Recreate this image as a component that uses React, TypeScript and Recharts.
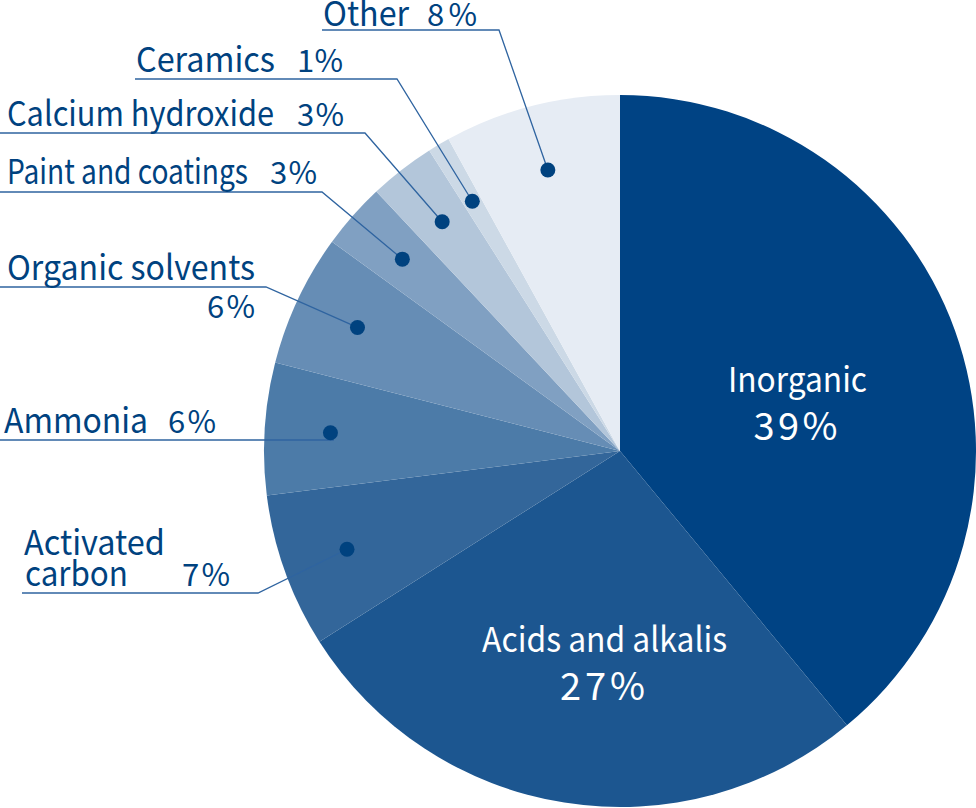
import React from 'react';
import { PieChart, Pie, Cell } from 'recharts';

// values (share of total, %)
const categories = [
  'Inorganic',
  'Acids and alkalis',
  'Activated carbon',
  'Ammonia',
  'Organic solvents',
  'Paint and coatings',
  'Calcium hydroxide',
  'Ceramics',
  'Other',
];
const shares = [39, 27, 7, 6, 6, 3, 3, 1, 8];
const sliceColors = [
  '#004384',
  '#1c5690',
  '#33669a',
  '#4c7ba8',
  '#668db5',
  '#80a0c2',
  '#b3c6da',
  '#ccd9e6',
  '#e6ecf4',
];

const data = categories.map((name, i) => ({ name, value: shares[i] }));

const FONT = '"Noto Sans CJK JP", "Source Sans Pro", "Noto Sans", sans-serif';
const TEXT_COLOR = '#00427f';
const LINE_COLOR = '#2f64a0';
const RAD = Math.PI / 180;

type TextLine = { text: string; x: number; y: number; w: number };
type OutsideLayout = {
  kind: 'outside';
  lines: TextLine[];
  pct: { x: number; y: number; w: number };
  underlineY: number;
  underlineX0: number;
  elbowX: number;
};
type InsideLayout = { kind: 'inside'; r: number; dx: number; dy: number; w: number; pw: number };

// label placement only (not data)
const labelLayout: Record<string, OutsideLayout | InsideLayout> = {
  Inorganic: { kind: 'inside', r: 0.53, dx: 0, dy: 18, w: 139, pw: 84 },
  'Acids and alkalis': { kind: 'inside', r: 0.6, dx: 18, dy: 3, w: 245, pw: 85 },
  'Activated carbon': {
    kind: 'outside',
    lines: [
      { text: 'Activated', x: 24, y: 555, w: 141 },
      { text: 'carbon', x: 25, y: 586, w: 103 },
    ],
    pct: { x: 182, y: 586, w: 48 },
    underlineY: 593,
    underlineX0: 22,
    elbowX: 258,
  },
  Ammonia: {
    kind: 'outside',
    lines: [{ text: 'Ammonia', x: 4, y: 433, w: 144 }],
    pct: { x: 168, y: 433, w: 48 },
    underlineY: 440,
    underlineX0: 0,
    elbowX: 333,
  },
  'Organic solvents': {
    kind: 'outside',
    lines: [{ text: 'Organic solvents', x: 7, y: 280, w: 248 }],
    pct: { x: 207, y: 318, w: 48 },
    underlineY: 287,
    underlineX0: 0,
    elbowX: 266,
  },
  'Paint and coatings': {
    kind: 'outside',
    lines: [{ text: 'Paint and coatings', x: 7, y: 184, w: 241 }],
    pct: { x: 270, y: 184, w: 47 },
    underlineY: 192,
    underlineX0: 0,
    elbowX: 322,
  },
  'Calcium hydroxide': {
    kind: 'outside',
    lines: [{ text: 'Calcium hydroxide', x: 7, y: 126, w: 267 }],
    pct: { x: 297, y: 126, w: 47 },
    underlineY: 133,
    underlineX0: 0,
    elbowX: 365,
  },
  Ceramics: {
    kind: 'outside',
    lines: [{ text: 'Ceramics', x: 136, y: 72, w: 139 }],
    pct: { x: 297, y: 72, w: 46 },
    underlineY: 79,
    underlineX0: 135,
    elbowX: 397,
  },
  Other: {
    kind: 'outside',
    lines: [{ text: 'Other', x: 323, y: 26, w: 86 }],
    pct: { x: 427, y: 26, w: 50 },
    underlineY: 30,
    underlineX0: 322,
    elbowX: 499,
  },
};

const renderLabel = (props: any) => {
  const { cx, cy, midAngle, outerRadius, index } = props;
  const name = categories[index];
  const pctText = `${shares[index]}%`;
  const layout = labelLayout[name];
  const cos = Math.cos(-midAngle * RAD);
  const sin = Math.sin(-midAngle * RAD);

  if (layout.kind === 'inside') {
    const x = cx + outerRadius * layout.r * cos + layout.dx;
    const y = cy + outerRadius * layout.r * sin + layout.dy;
    return (
      <g key={`label-${index}`}>
        <text
          x={x - layout.w / 2}
          y={y - 13}
          fill="#ffffff"
          fontFamily={FONT}
          fontSize={34}
          textLength={layout.w}
          lengthAdjust="spacingAndGlyphs"
        >
          {name}
        </text>
        <text
          x={x - 2 - layout.pw / 2}
          y={y + 35}
          fill="#ffffff"
          fontFamily={FONT}
          fontSize={38}
          textLength={layout.pw}
          lengthAdjust="spacing"
        >
          {pctText}
        </text>
      </g>
    );
  }

  const dotR = outerRadius * 0.815;
  const dx = cx + dotR * cos;
  const dy = cy + dotR * sin;
  return (
    <g key={`label-${index}`}>
      <polyline
        points={`${layout.underlineX0},${layout.underlineY} ${layout.elbowX},${layout.underlineY} ${dx},${dy}`}
        fill="none"
        stroke={LINE_COLOR}
        strokeWidth={1.3}
      />
      <circle cx={dx} cy={dy} r={7.5} fill="#00427f" />
      {layout.lines.map((l) => (
        <text
          key={l.text}
          x={l.x}
          y={l.y}
          fill={TEXT_COLOR}
          fontFamily={FONT}
          fontSize={34}
          textLength={l.w}
          lengthAdjust="spacingAndGlyphs"
        >
          {l.text}
        </text>
      ))}
      <text
        x={layout.pct.x}
        y={layout.pct.y}
        fill={TEXT_COLOR}
        fontFamily={FONT}
        fontSize={31}
        textLength={layout.pct.w}
        lengthAdjust="spacing"
      >
        {pctText}
      </text>
    </g>
  );
};

export default function App() {
  return (
    <div style={{ position: 'absolute', left: 0, top: 0, width: 976, height: 808, background: '#ffffff' }}>
      <PieChart width={976} height={808} margin={{ top: 0, right: 0, bottom: 0, left: 0 }}>
        <Pie
          data={data}
          dataKey="value"
          nameKey="name"
          cx={620}
          cy={451}
          outerRadius={356}
          startAngle={90}
          endAngle={-270}
          stroke="none"
          label={renderLabel}
          labelLine={false}
          isAnimationActive={false}
        >
          {data.map((d, i) => (
            <Cell key={d.name} fill={sliceColors[i]} stroke="none" />
          ))}
        </Pie>
      </PieChart>
    </div>
  );
}
